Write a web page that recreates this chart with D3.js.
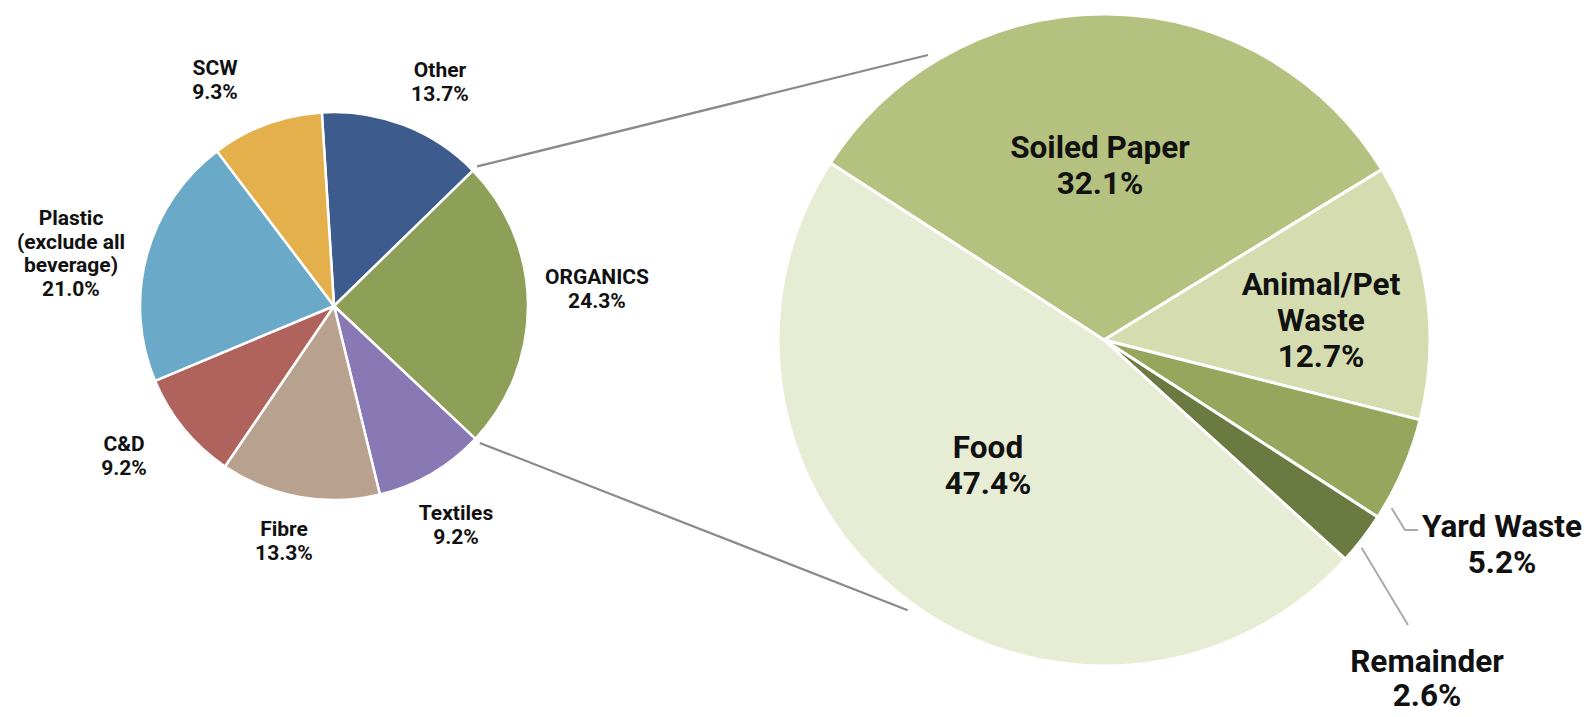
<!DOCTYPE html>
<html>
<head>
<meta charset="utf-8">
<script src="https://cdn.jsdelivr.net/npm/d3@7"></script>
<style>
  html, body { margin: 0; padding: 0; background: #ffffff; }
  svg { display: block; }
  text { font-family: Roboto, "Liberation Sans", sans-serif; font-weight: 700; fill: #111; }
</style>
</head>
<body>
<svg id="chart" width="1593" height="717"></svg>
<script>
// ---------- data ----------
const mainCategories = ["Other", "ORGANICS", "Textiles", "Fibre", "C&D", "Plastic (exclude all beverage)", "SCW"];
const mainValues     = [13.7, 24.3, 9.2, 13.3, 9.2, 21.0, 9.3];
const mainLabelLines = [["Other"], ["ORGANICS"], ["Textiles"], ["Fibre"], ["C&D"], ["Plastic", "(exclude all", "beverage)"], ["SCW"]];

const subCategories  = ["Soiled Paper", "Animal/Pet Waste", "Yard Waste", "Remainder", "Food"];
const subValues      = [32.1, 12.7, 5.2, 2.6, 47.4];
const subLabelLines  = [["Soiled Paper"], ["Animal/Pet", "Waste"], ["Yard Waste"], ["Remainder"], ["Food"]];

// ---------- layout & style ----------
const mainColors = ["#3e5b8e", "#8e9f58", "#8878b4", "#b9a18f", "#b0625c", "#6ba9c9", "#e4b04c"];
const subColors  = ["#b5c27f", "#d5ddb0", "#96a65c", "#6a7a40", "#e7ecd4"];

const mainPie = { cx: 334, cy: 306, r: 194, start: -3.6 };
const subPie  = { cx: 1104, cy: 340, r: 326, start: -57.1 };

// label anchor positions (x centre, first baseline, line spacing)
const mainLabelPos = [[440, 77, 23.5], [597, 284, 23.5], [456, 520, 23.5], [284, 536, 23.5], [124, 451, 23.5], [71, 225, 23.5], [215, 75, 23.5]];
const subLabelPos  = [[1100, 158, 36], [1321, 295, 36], [1502, 537, 36], [1427, 672, 34], [988, 458, 36]];

const svg = d3.select("#chart");
const rad = d => d * Math.PI / 180;
const polar = (p, angDeg, r) => [p.cx + r * Math.sin(rad(angDeg)), p.cy - r * Math.cos(rad(angDeg))];

function drawPie(p, values, colors, strokeW) {
  const pie = d3.pie().sort(null).value(d => d)
    .startAngle(rad(p.start)).endAngle(rad(p.start) + 2 * Math.PI);
  const arcs = pie(values);
  const arc = d3.arc().innerRadius(0).outerRadius(p.r);
  svg.append("g")
    .attr("transform", `translate(${p.cx},${p.cy})`)
    .selectAll("path").data(arcs).join("path")
    .attr("d", arc)
    .attr("fill", (d, i) => colors[i])
    .attr("stroke", "#ffffff")
    .attr("stroke-width", strokeW)
    .attr("stroke-linejoin", "round");
  return arcs;
}

function drawLabels(lines, values, pos, fontSize) {
  const g = svg.append("g");
  lines.forEach((ls, i) => {
    const t = g.append("text")
      .attr("x", pos[i][0]).attr("y", pos[i][1])
      .attr("text-anchor", "middle")
      .style("font-size", fontSize + "px");
    ls.concat([values[i].toFixed(1) + "%"]).forEach((s, j) => {
      t.append("tspan").attr("x", pos[i][0]).attr("dy", j === 0 ? 0 : pos[i][2]).text(s);
    });
  });
}

// connector lines between pies (from Organics slice boundaries)
const mainArcs = d3.pie().sort(null).value(d => d)
  .startAngle(rad(mainPie.start)).endAngle(rad(mainPie.start) + 2 * Math.PI)(mainValues);
const org = mainArcs[1];
const orgStartDeg = org.startAngle * 180 / Math.PI;
const orgEndDeg = org.endAngle * 180 / Math.PI;
const connectors = [
  [polar(mainPie, orgStartDeg, mainPie.r + 6), polar(subPie, -31.7, subPie.r + 9)],
  [polar(mainPie, orgEndDeg, mainPie.r + 6), polar(subPie, 216, subPie.r + 8)]
];
svg.append("g").selectAll("path").data(connectors).join("path")
  .attr("d", d => d3.line()(d))
  .attr("fill", "none")
  .attr("stroke", "#8a8a8e")
  .attr("stroke-width", 2.2);

drawPie(mainPie, mainValues, mainColors, 2.5);
const subArcs = drawPie(subPie, subValues, subColors, 3);

// leader lines for small slices
const leaders = [
  [polar(subPie, 120.3, subPie.r + 7), [1405, 530], [1418, 530]],
  [polar(subPie, 128.9, subPie.r + 5), [1408, 625]]
];
svg.append("g").selectAll("path").data(leaders).join("path")
  .attr("d", d => d3.line()(d))
  .attr("fill", "none")
  .attr("stroke", "#a9a9b0")
  .attr("stroke-width", 2);

drawLabels(mainLabelLines, mainValues, mainLabelPos, 21);
drawLabels(subLabelLines, subValues, subLabelPos, 31.5);
</script>
</body>
</html>
